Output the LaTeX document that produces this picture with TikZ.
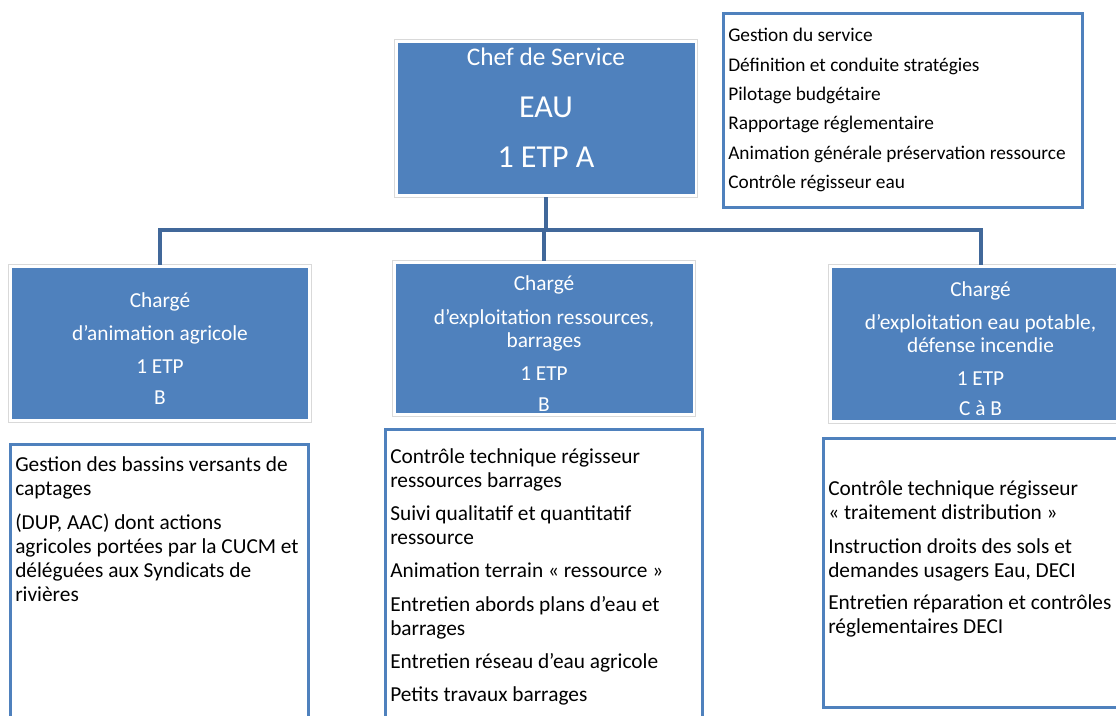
\documentclass[tikz,border=0pt]{standalone}
\usepackage{fontspec}
\setmainfont{Carlito}
\usetikzlibrary{calc,positioning}
\definecolor{posteblue}{HTML}{4F81BD}
\definecolor{lienblue}{HTML}{41689A}
\definecolor{cadregris}{HTML}{D9D9D9}

\begin{document}
\begin{tikzpicture}[
    x=0.75pt, y=-0.75pt,
    poste/.style={rectangle, fill=posteblue, text=white, align=center, inner sep=0pt, font=\fontsize{16}{17.25}\selectfont},
    cadre/.style={draw=cadregris, line width=0.6pt},
    missions/.style={rectangle, draw=posteblue, line width=2.25pt, fill=white, anchor=north west, inner sep=0pt, outer sep=0pt},
    liste/.style={anchor=north west, align=flush left, inner sep=0pt, text width=#1, font=\fontsize{16}{18}\selectfont},
    lien/.style={draw=lienblue, line width=3pt}
]
\useasboundingbox (0,0) rectangle (1116,715);
\clip (0,0) rectangle (1116,715);

\node[poste, minimum width=222.75pt, minimum height=113.25pt, font=\fontsize{24}{29}\selectfont] (chef) at (546,118.5)
    {{\fontsize{19}{23}\selectfont Chef de Service}\\[10pt] EAU\\[9pt] 1 ETP A\rule[-16pt]{0pt}{16pt}};
\node[poste, minimum width=222pt, minimum height=113.25pt] (anim) at (160,343.5)
    {\rule{0pt}{19pt}Chargé\\[7.5pt] d’animation agricole\\[7.5pt] 1 ETP\\[6pt] B};
\node[poste, minimum width=222.75pt, minimum height=111.75pt] (ress) at (544,338.5)
    {\rule{0pt}{19pt}Chargé\\[8pt] d’exploitation ressources,\\ barrages\\[8pt] 1 ETP\\[6pt] B};
\node[poste, minimum width=222.75pt, minimum height=114pt] (pot) at (980.5,344)
    {\rule{0pt}{18pt}Chargé\\[7.5pt] d’exploitation eau potable,\\ défense incendie\\[7.5pt] 1 ETP\\[5pt] C à B};

\foreach \n in {chef,anim,ress,pot}
    \draw[cadre] ($(\n.north west)+(-3,-3)$) rectangle ($(\n.south east)+(3,3)$);

\coordinate (bus) at (546,230);
\draw[lien, shorten <=2.25pt] (chef.south) -- (chef.south |- bus);
\draw[lien, shorten <=2.25pt, shorten >=2.25pt] (anim.north) |- (bus) -| (pot.north);
\draw[lien, shorten >=2.25pt] (bus -| ress.north) -- (ress.north);

\node[missions, minimum width=269.25pt, minimum height=145.5pt] (missChef) at (723,13) {};
\node[liste=260pt, font=\fontsize{14.5}{22}\selectfont] (txtChef) at ([shift={(5,15)}]missChef.north west)
    {Gestion du service\\ Définition et conduite stratégies\\ Pilotage budgétaire\\ Rapportage réglementaire\\ Animation générale préservation ressource\\ Contrôle régisseur eau};

\node[missions, minimum width=223.5pt, minimum height=214.5pt] (missAnim) at (10,444) {};
\node[liste=240pt] (txtAnim) at ([shift={(5,12)}]missAnim.north west)
    {Gestion des bassins versants de\\ captages\\[8pt] (DUP, AAC) dont actions\\ agricoles portées par la CUCM et\\ déléguées aux Syndicats de\\ rivières};

\node[missions, minimum width=237.75pt, minimum height=225.75pt] (missRess) at (385,429) {};
\node[liste=240pt] (txtRess) at ([shift={(5,19)}]missRess.north west)
    {Contrôle technique régisseur\\ ressources barrages\\[7pt] Suivi qualitatif et quantitatif\\ ressource\\[7pt] Animation terrain «~ressource~»\\[7pt] Entretien abords plans d’eau et\\ barrages\\[7pt] Entretien réseau d’eau agricole\\[7pt] Petits travaux barrages};

\node[missions, minimum width=230.25pt, minimum height=201.75pt] (missPot) at (823,438) {};
\node[liste=240pt] (txtPot) at ([shift={(5,42)}]missPot.north west)
    {Contrôle technique régisseur\\ «~traitement distribution~»\\[8pt] Instruction droits des sols et\\ demandes usagers Eau, DECI\\[6pt] Entretien réparation et contrôles\\ réglementaires DECI};
\end{tikzpicture}
\end{document}
